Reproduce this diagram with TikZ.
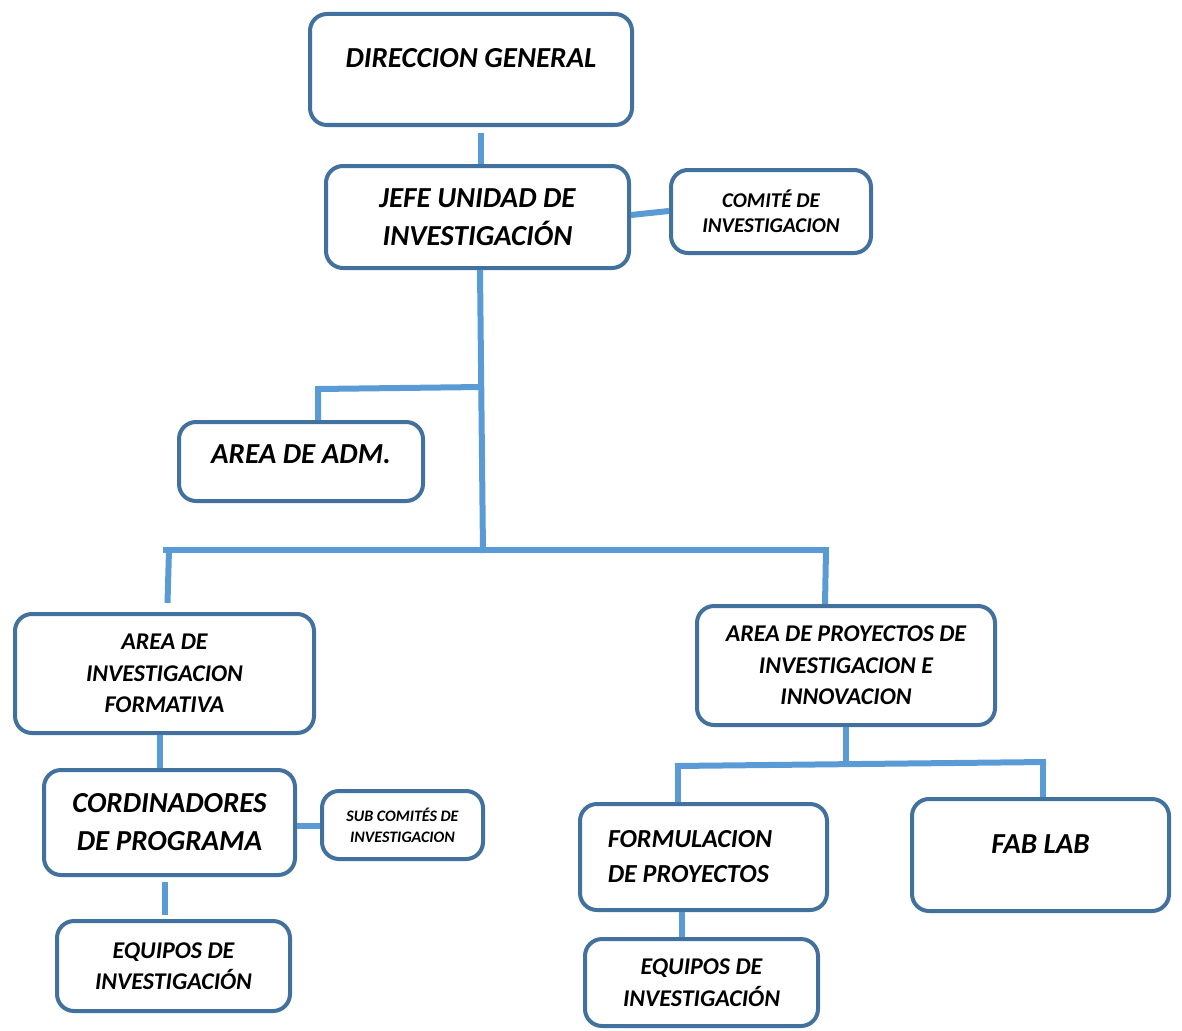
\documentclass[tikz,border=0pt]{standalone}
\usepackage{fontspec}
\setmainfont{Carlito}
\definecolor{boxblue}{HTML}{41719C}
\definecolor{lineblue}{HTML}{5B9BD5}
\begin{document}
\begin{tikzpicture}[x=1pt,y=-1pt,
  box/.style={draw=boxblue, line width=4pt, rounded corners=17pt, fill=white,
    align=center, inner sep=0pt, font=\bfseries\itshape},
  big/.style={font={\fontsize{29}{38}\selectfont\bfseries\itshape}},
  mid/.style={font={\fontsize{24}{31.5}\selectfont\bfseries\itshape}},
  conn/.style={draw=lineblue, line width=6pt}]
\useasboundingbox (0,0) rectangle (1182,1030);

% boxes
\node[box, big, minimum width=322pt, minimum height=111pt, text depth=24pt] (dg) at (471,69.5) {DIRECCION GENERAL};
\node[box, big, minimum width=303pt, minimum height=102pt] (jefe) at (477.5,217) {JEFE UNIDAD DE\\INVESTIGACIÓN};
\node[box, font={\fontsize{21}{25}\selectfont\bfseries\itshape}, minimum width=200pt, minimum height=83pt] (comite) at (771,211.5) {COMITÉ DE\\INVESTIGACION};
\node[box, big, minimum width=244pt, minimum height=79pt, text depth=14pt] (adm) at (301,461.5) {AREA DE ADM.};
\node[box, mid, minimum width=299pt, minimum height=119pt, text depth=0pt] (form) at (164.5,673.5) {AREA DE\\INVESTIGACION\\FORMATIVA};
\node[box, mid, minimum width=298pt, minimum height=119pt, text depth=0pt] (proy) at (846,665.5) {AREA DE PROYECTOS DE\\INVESTIGACION E\\INNOVACION};
\node[box, big, minimum width=251pt, minimum height=105pt] (cord) at (169.5,822.5) {CORDINADORES\\DE PROGRAMA};
\node[box, font={\fontsize{16}{21}\selectfont\bfseries\itshape}, minimum width=161pt, minimum height=68pt] (sub) at (402.5,825) {SUB COMITÉS DE\\INVESTIGACION};
\node[box, mid, minimum width=233pt, minimum height=90pt] (eqL) at (173.5,966) {EQUIPOS DE\\INVESTIGACIÓN};
\node[box, font={\fontsize{26}{35}\selectfont\bfseries\itshape}, align=left, minimum width=247pt, minimum height=106pt] (formu) at (703.5,857) {FORMULACION\hspace*{27pt}\\DE PROYECTOS\hspace*{30pt}};
\node[box, big, minimum width=257pt, minimum height=112pt, text depth=22pt] (fab) at (1040.5,855) {FAB LAB};
\node[box, mid, minimum width=233pt, minimum height=87pt] (eqR) at (701.5,982.5) {EQUIPOS DE\\INVESTIGACIÓN};

% junction points
\coordinate (jA) at (481,387);
\coordinate (jB) at (483,553);
\coordinate (barL) at (163,550);
\coordinate (barR) at (829,550);
\coordinate (pA) at (846,764);
\coordinate (pL) at (675,766);
\coordinate (pR) at (1046,762);

% connectors
\draw[conn] ([xshift=10pt,yshift=-6pt]dg.south) -- ([xshift=3.5pt]jefe.north);
\draw[conn] ([yshift=2pt]jefe.east) -- ([yshift=0.5pt]comite.west);
\draw[conn] ([xshift=2.5pt]jefe.south) -- (jB);
\draw[conn] (jA) -- (318,389) -- ([xshift=17pt]adm.north);
\draw[conn] (barL) -- (barR);
\draw[conn] ([xshift=6pt]barL) -- ([xshift=3pt,yshift=9pt]form.north);
\draw[conn] ([xshift=-3pt]barR) -- ([xshift=-21pt]proy.north);
\draw[conn] ([xshift=-4.5pt]form.south) -- ([xshift=-9.5pt]cord.north);
\draw[conn] ([yshift=-3.5pt]cord.east) -- ([yshift=-1pt]sub.west);
\draw[conn] ([xshift=-4.5pt,yshift=-5pt]cord.south) -- ([xshift=-8.5pt,yshift=4pt]eqL.north);
\draw[conn] (proy.south) -- (pA);
\draw[conn] (pL) -- (pR);
\draw[conn] ([xshift=3pt]pL) -- ([xshift=-25.5pt]formu.north);
\draw[conn] ([xshift=-3pt]pR) -- ([xshift=2.5pt]fab.north);
\draw[conn] ([xshift=-21.5pt]formu.south) -- ([xshift=-19.5pt]eqR.north);
\end{tikzpicture}
\end{document}
